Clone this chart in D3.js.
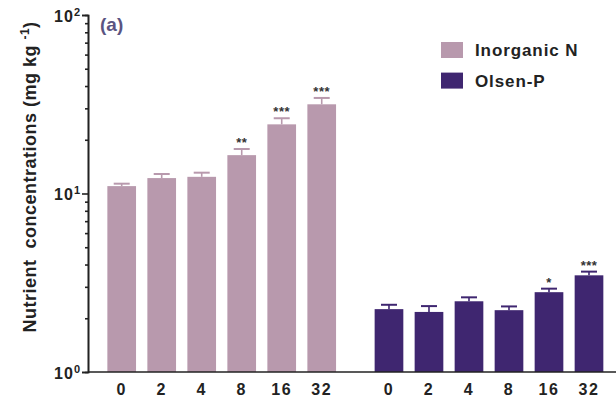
<!DOCTYPE html>
<html>
<head>
<meta charset="utf-8">
<script src="https://cdn.jsdelivr.net/npm/d3@7"></script>
<style>
  html, body { margin: 0; padding: 0; background: #fff; }
  svg { display: block; font-family: "Liberation Sans", Arial, sans-serif; }
  text { white-space: pre; }
</style>
</head>
<body>
<svg id="chart" width="616" height="398"></svg>
<script>
// Nitrogen addition levels (x categories)
const doses = ["0", "2", "4", "8", "16", "32"];
const seriesNames = ["Inorganic N", "Olsen-P"];
const seriesColors = ["#b899ad", "#3f2670"];

// Means and standard errors (mg kg-1)
const inorganicN = [11.0, 12.2, 12.4, 16.4, 24.4, 31.6];
const inorganicNErr = [0.35, 0.66, 0.68, 1.36, 2.0, 2.7];
const olsenP = [2.25, 2.17, 2.49, 2.22, 2.80, 3.48];
const olsenPErr = [0.13, 0.17, 0.13, 0.11, 0.13, 0.17];

// Significance marks vs. control
const inorganicNSig = ["", "", "", "**", "***", "***"];
const olsenPSig = ["", "", "", "", "*", "***"];

// Y axis decades (exponents of 10)
const yMajorExponents = [0, 1, 2];

const svg = d3.select("#chart");
const plotLeft = 88, plotTop = 15, plotBottom = 372, plotRight = 616;

const y = d3.scaleLog().domain([1, 100]).range([plotBottom, plotTop]);

const groups = d3.scaleBand().domain(seriesNames).range([101.7, 609]).paddingInner(0.102).paddingOuter(0);
const inner = d3.scaleBand().domain(doses).range([0, groups.bandwidth()]).paddingInner(0.283).paddingOuter(0.1415);

const series = [
  { name: seriesNames[0], color: seriesColors[0], values: inorganicN, errs: inorganicNErr, sig: inorganicNSig },
  { name: seriesNames[1], color: seriesColors[1], values: olsenP, errs: olsenPErr, sig: olsenPSig }
];

// Bars, error bars and significance stars
series.forEach(s => {
  const g = svg.append("g").attr("transform", `translate(${groups(s.name)},0)`);
  const rows = doses.map((d, i) => ({ dose: d, v: s.values[i], e: s.errs[i], sig: s.sig[i] }));
  const cx = d => inner(d.dose) + inner.bandwidth() / 2;

  g.selectAll("line.stem").data(rows).join("line").attr("class", "stem")
    .attr("x1", cx).attr("x2", cx)
    .attr("y1", d => y(d.v)).attr("y2", d => y(d.v + d.e))
    .attr("stroke", s.color).attr("stroke-width", 1.6);
  g.selectAll("line.cap").data(rows).join("line").attr("class", "cap")
    .attr("x1", d => cx(d) - 8).attr("x2", d => cx(d) + 8)
    .attr("y1", d => y(d.v + d.e)).attr("y2", d => y(d.v + d.e))
    .attr("stroke", s.color).attr("stroke-width", 2);

  g.selectAll("rect").data(rows).join("rect")
    .attr("x", d => inner(d.dose))
    .attr("width", inner.bandwidth())
    .attr("y", d => y(d.v))
    .attr("height", d => plotBottom - y(d.v))
    .attr("fill", s.color);

  g.selectAll("text.sig").data(rows.filter(d => d.sig)).join("text").attr("class", "sig")
    .attr("x", cx).attr("y", d => y(d.v + d.e) - 2)
    .attr("text-anchor", "middle")
    .attr("font-size", 13).attr("font-weight", "bold")
    .attr("letter-spacing", 0.5)
    .attr("fill", "#333")
    .text(d => d.sig);
});

// Y axis: major ticks with labels, minor ticks for 2..9 in each decade
const minorTicks = [];
for (let e = 0; e < 2; e++) for (let m = 2; m <= 9; m++) minorTicks.push(m * Math.pow(10, e));

const yAxisMinor = svg.append("g").attr("transform", `translate(${plotLeft},0)`)
  .call(d3.axisLeft(y).tickValues(minorTicks).tickSize(3).tickFormat(""));
const yAxisMajor = svg.append("g").attr("transform", `translate(${plotLeft},0)`)
  .call(d3.axisLeft(y).tickValues(yMajorExponents.map(e => Math.pow(10, e))).tickSize(6).tickFormat(""));
[yAxisMinor, yAxisMajor].forEach(a => {
  a.select(".domain").attr("stroke", "#222").attr("stroke-width", 1.6);
  a.selectAll(".tick line").attr("stroke", "#222").attr("stroke-width", 1.6);
});
yAxisMajor.selectAll(".tick").each(function(v) {
  const t = d3.select(this).append("text")
    .attr("x", -7).attr("y", 6)
    .attr("text-anchor", "end")
    .attr("font-size", 16).attr("font-weight", "bold").attr("fill", "#222")
    .attr("letter-spacing", 1);
  t.append("tspan").text("10");
  t.append("tspan").attr("dy", -6).attr("font-size", 11).text(String(Math.round(Math.log10(v))));
});

// X axis
svg.append("line")
  .attr("x1", plotLeft).attr("x2", plotRight).attr("y1", plotBottom).attr("y2", plotBottom)
  .attr("stroke", "#222").attr("stroke-width", 1.6);
series.forEach(s => {
  svg.append("g").selectAll("text").data(doses).join("text")
    .attr("x", d => groups(s.name) + inner(d) + inner.bandwidth() / 2)
    .attr("y", 395)
    .attr("text-anchor", "middle")
    .attr("font-size", 16).attr("font-weight", "bold").attr("fill", "#222")
    .attr("letter-spacing", 1.5)
    .text(d => d);
});

// Y axis title
const yTitle = svg.append("text")
  .attr("transform", "translate(36,177) rotate(-90)")
  .attr("text-anchor", "middle")
  .attr("font-size", 18).attr("font-weight", "bold").attr("fill", "#222")
  .attr("letter-spacing", 0.5);
yTitle.append("tspan").text("Nutrient  concentrations (mg kg ");
yTitle.append("tspan").attr("dy", -7).attr("font-size", 12).text("-1");
yTitle.append("tspan").attr("dy", 7).text(")");

// Panel label
svg.append("text").attr("x", 100).attr("y", 31)
  .attr("font-size", 19).attr("font-weight", "bold").attr("fill", "#5a5482")
  .text("(a)");

// Legend
const legend = svg.append("g").selectAll("g").data(series).join("g")
  .attr("transform", (d, i) => `translate(441,${42 + i * 30.6})`);
legend.append("rect").attr("width", 22).attr("height", 16).attr("fill", d => d.color);
legend.append("text").attr("x", 34).attr("y", 14)
  .attr("font-size", 17).attr("font-weight", "bold").attr("fill", "#222")
  .attr("letter-spacing", 0.9)
  .text(d => d.name);
</script>
</body>
</html>
